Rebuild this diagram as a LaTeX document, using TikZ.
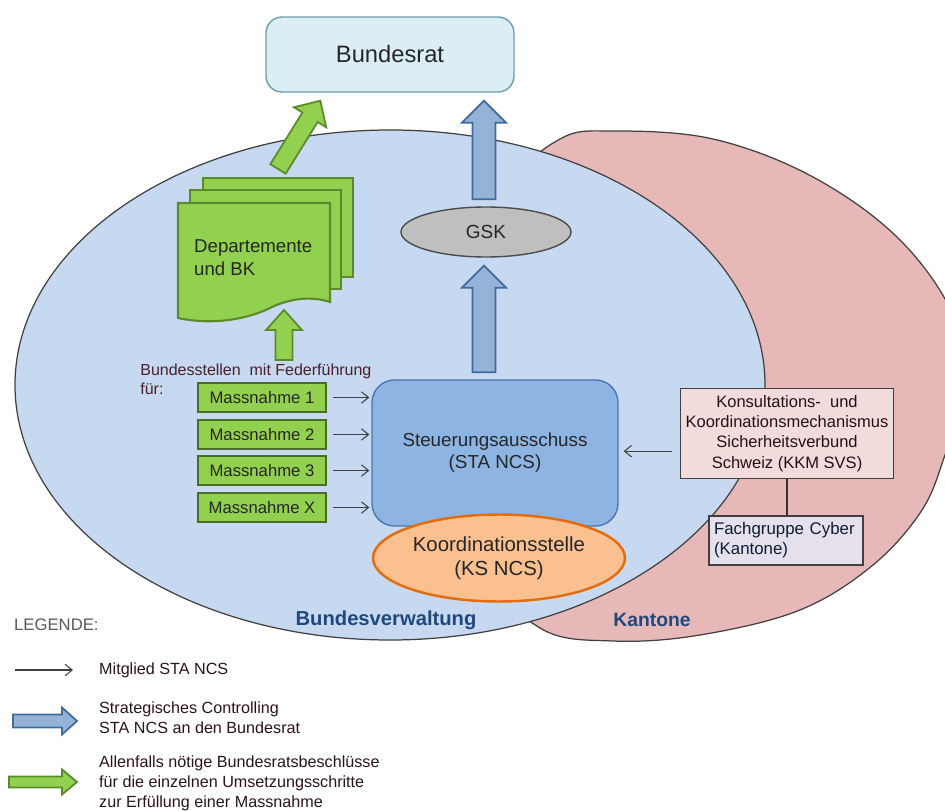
\documentclass[tikz,border=0pt]{standalone}
\usepackage{fontspec}
\setmainfont{Liberation Sans}
\usetikzlibrary{calc,arrows.meta,shapes.geometric}
\definecolor{bvfill}{HTML}{C6D9F1}
\definecolor{kafill}{HTML}{E6B9B8}
\definecolor{brfill}{HTML}{DBEEF4}
\definecolor{brline}{HTML}{6F9CAB}
\definecolor{grfill}{HTML}{92D050}
\definecolor{grline}{HTML}{5A8A2B}
\definecolor{stfill}{HTML}{8EB4E3}
\definecolor{stline}{HTML}{4A76AE}
\definecolor{bafill}{HTML}{95B3D7}
\definecolor{baline}{HTML}{3F6A9E}
\definecolor{ksfill}{HTML}{FAC090}
\definecolor{ksline}{HTML}{E46C0A}
\definecolor{gsfill}{HTML}{BFBFBF}
\definecolor{kkfill}{HTML}{F2DCDB}
\definecolor{fcfill}{HTML}{E6E0EC}
\definecolor{lblue}{HTML}{1F497D}
\definecolor{maroon}{HTML}{4A1F2A}
\definecolor{dtext}{HTML}{262626}
\newcommand\blockarrow[6]{%
  \coordinate (baA) at (#2);
  \coordinate (baB) at (#3);
  \coordinate (baH) at ($(baB)!#6!(baA)$);
  \draw[#1] ($(baA)!#4!90:(baB)$) -- ($(baH)!#4!-90:(baA)$) -- ($(baH)!#5!-90:(baA)$) -- (baB)
    -- ($(baH)!#5!90:(baA)$) -- ($(baH)!#4!90:(baA)$) -- ($(baA)!#4!-90:(baB)$) -- cycle;
}
\tikzset{
  ellline/.style={draw=black!75, line width=0.7pt},
  greenbox/.style={draw=grline, fill=grfill, line width=1.2pt},
  massbox/.style={draw=grline!80!black, fill=grfill, line width=1.5pt, minimum width=2.56cm, minimum height=0.58cm, inner sep=0pt, font=\fontsize{9.5}{11}\selectfont, text=dtext},
  thinarr/.style={draw=black!75, line width=0.6pt, -{Straight Barb[length=4pt,width=6.5pt]}},
  bluearr/.style={draw=baline, fill=bafill, line width=1pt},
  greenarr/.style={draw=grline, fill=grfill, line width=1pt},
  lgtext/.style={anchor=west, align=left, text=maroon!60!black, font=\fontsize{9.2}{11.4}\selectfont},
}
\begin{document}
\begin{tikzpicture}[x=0.02cm,y=-0.02cm]
\useasboundingbox (0,0) rectangle (945,810);
% big regions
\begin{scope}
  \clip (0,0) rectangle (945,810);
  \draw[ellline, fill=kafill] plot[smooth cycle, tension=0.6] coordinates {
    (613,131) (713,139) (813,177) (900,240) (955,320) (962,400) (945,455) (922,510)
    (873,565) (800,610) (700,635) (613,641) (540,628) (480,560) (455,420) (465,290) (505,190) (560,139)};
\end{scope}
\draw[ellline, fill=bvfill] (390,385) ellipse [x radius=375, y radius=255];
\node[font=\bfseries\fontsize{11.5}{13}\selectfont, text=lblue] (lbv) at (386,620) {Bundesverwaltung};
\node[font=\bfseries\fontsize{11}{13}\selectfont, text=lblue] (lka) at (652,620) {Kantone};

% Bundesrat
\node[draw=brline, fill=brfill, line width=0.8pt, rounded corners=0.32cm, minimum width=4.96cm, minimum height=1.5cm,
      font=\fontsize{13.5}{15}\selectfont, text=dtext] (br) at (390,54.5) {Bundesrat};

% document stack
\node[greenbox, minimum width=3.0cm, minimum height=1.98cm, inner sep=0pt] (docback) at (278,227.5) {};
\node[greenbox, minimum width=3.02cm, minimum height=1.98cm, inner sep=0pt] (docmid) at (265.5,239.5) {};
\draw[greenbox] (178,203) -- (330,203) -- (330,302)
   .. controls (312,296) and (290,298) .. (270,308)
   .. controls (250,318) and (215,326) .. (178,318) -- cycle;
\node[anchor=west, align=left, font=\fontsize{10.6}{13}\selectfont, text=dtext] (dep) at (188,258) {Departemente\\und BK};

% green arrows
\blockarrow{greenarr}{$(docback.north)+(0,-8)$}{$(br.south west)+(55,8)$}{0.18cm}{0.38cm}{0.39cm}
\coordinate (gupA) at (284,360);
\coordinate (gupB) at (284,310);
\blockarrow{greenarr}{gupA}{gupB}{0.17cm}{0.36cm}{0.4cm}

% Bundesstellen
\node[anchor=north west, align=left, inner sep=0pt, text=maroon, font=\fontsize{9.1}{10.4}\selectfont] (bst) at (140,364) {Bundesstellen\ \ mit Federführung\\für:};
\node[massbox] (m1) at (262,397.5) {Massnahme 1};
\node[massbox] (m2) at (262,434.5) {Massnahme 2};
\node[massbox] (m3) at (262,470.5) {Massnahme 3};
\node[massbox] (m4) at (262,507.5) {Massnahme X};

% Steuerungsausschuss
\node[draw=stline, fill=stfill, line width=0.8pt, rounded corners=0.45cm, minimum width=4.92cm, minimum height=2.92cm,
      align=center, font=\fontsize{10.7}{12.6}\selectfont, text=dtext] (sta) at (495,453) {Steuerungsausschuss\\(STA NCS)};
\foreach \m in {m1,m2,m3,m4}{
  \draw[thinarr] ($(\m.east)+(6,0)$) -- ($(\m.east -| sta.west)+(-2,0)$);
}
% Koordinationsstelle
\node[ellipse, draw=ksline, fill=ksfill, line width=1.4pt, minimum width=5.04cm, minimum height=1.74cm, inner sep=0pt,
      align=center, font=\fontsize{11.6}{13.6}\selectfont, text=dtext] (ks) at (499,558) {Koordinationsstelle\\(KS NCS)};

% GSK
\node[ellipse, draw=black!70, fill=gsfill, line width=0.8pt, minimum width=3.4cm, minimum height=1.0cm, inner sep=0pt,
      font=\fontsize{10.8}{12}\selectfont, text=dtext] (gsk) at (486,232) {GSK};

% blue arrows
\blockarrow{bluearr}{$(gsk.north)+(-2,-7)$}{$(br.south)+(94,8)$}{0.23cm}{0.44cm}{0.44cm}
\blockarrow{bluearr}{$(sta.north)+(-11,-7)$}{$(gsk.south)+(-2,8)$}{0.23cm}{0.44cm}{0.44cm}

% KKM
\node[draw=black!75, fill=kkfill, line width=0.8pt, minimum width=4.26cm, minimum height=1.8cm, inner sep=0pt,
      align=center, font=\fontsize{9.4}{11.6}\selectfont, text=maroon!50!black] (kkm) at (787,433.5)
      {Konsultations-\ \ und\\Koordinationsmechanismus\\Sicherheitsverbund\\Schweiz (KKM SVS)};
\node[draw=black!75, fill=fcfill, line width=0.8pt, minimum width=3.08cm, minimum height=0.98cm, inner xsep=0.1cm, inner ysep=0pt,
      text width=2.88cm, align=left, font=\fontsize{9.6}{11.4}\selectfont, text=lblue!40!black] (fach) at (786,540.5)
      {Fachgruppe Cyber\\(Kantone)};
\draw[thinarr] ($(kkm.south west)+(-8,-28)$) -- ($(kkm.south west -| sta.east)+(5,-28)$);
\draw[draw=black!80, line width=1pt] (kkm.south) -- (kkm.south |- fach.north);

% legend
\node[anchor=west, text=black!65, font=\fontsize{9.5}{11}\selectfont] (leg) at (8,625) {LEGENDE:};
\coordinate (l1a) at (15,670);
\coordinate (l1b) at (73,670);
\draw[thinarr] (l1a) -- (l1b);
\node[lgtext] (lt1) at (93,670) {Mitglied STA NCS};
\coordinate (l2a) at (13,721);
\coordinate (l2b) at (77,721);
\blockarrow{bluearr}{l2a}{l2b}{0.13cm}{0.27cm}{0.3cm}
\node[lgtext] (lt2) at (93,718) {Strategisches Controlling\\STA NCS an den Bundesrat};
\coordinate (l3a) at (9,782);
\coordinate (l3b) at (77,782);
\blockarrow{greenarr}{l3a}{l3b}{0.11cm}{0.25cm}{0.3cm}
\node[lgtext] (lt3) at (93,783) {Allenfalls nötige Bundesratsbeschlüsse\\für die einzelnen Umsetzungsschritte\\zur Erfüllung einer Massnahme};
\end{tikzpicture}
\end{document}
